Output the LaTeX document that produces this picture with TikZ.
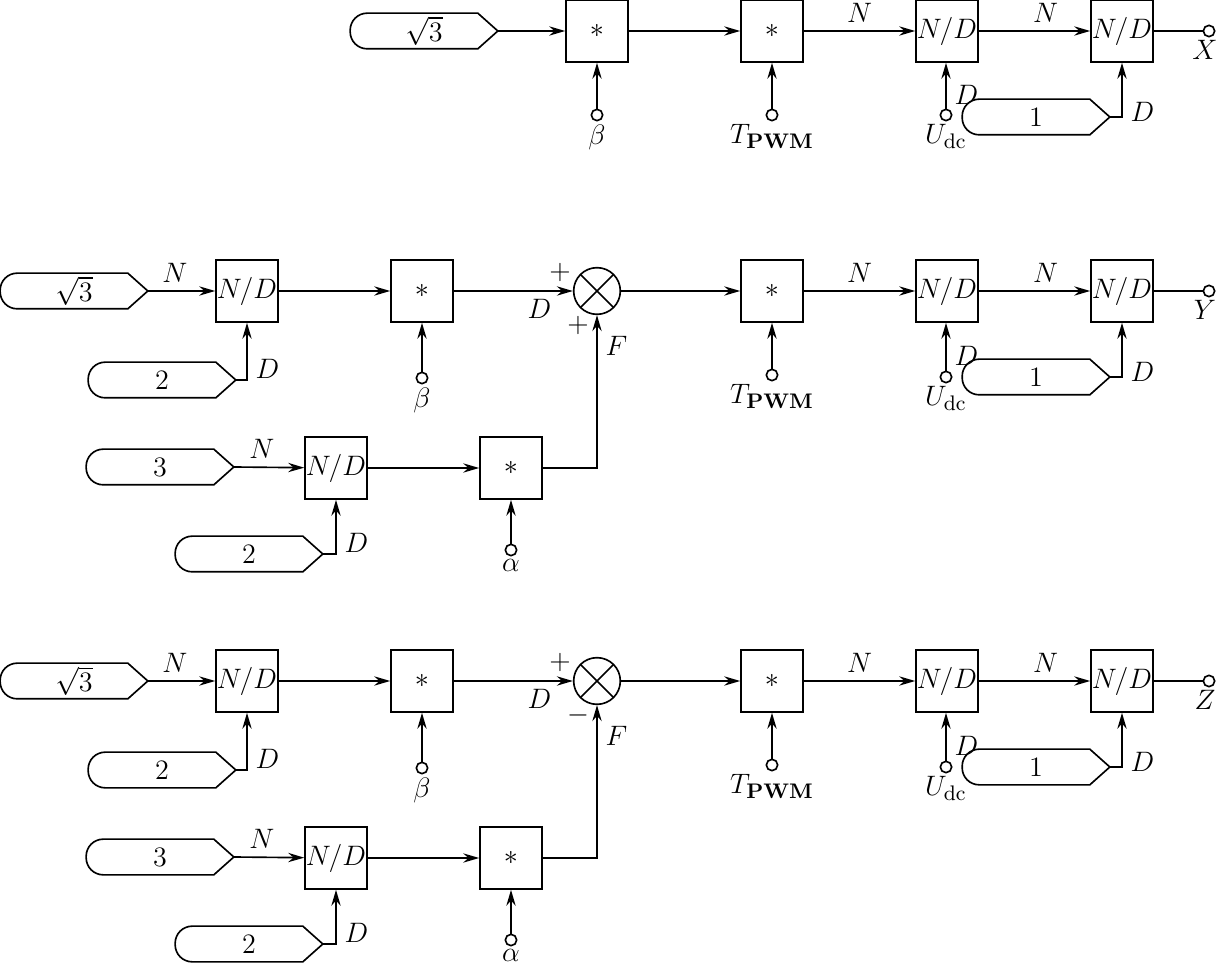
\documentclass[tikz,border=0pt]{standalone}
\usetikzlibrary{arrows.meta}

\tikzset{
  blk/.style={draw, minimum size=9.3mm, inner sep=0pt},
  sum/.style={draw, circle, minimum size=7mm, inner sep=0pt,
    path picture={\draw (path picture bounding box.north west) -- (path picture bounding box.south east)
      (path picture bounding box.south west) -- (path picture bounding box.north east);}},
  term/.style={draw, circle, minimum size=1.7mm, inner sep=0pt},
  cst/.style={minimum width=21.9mm, minimum height=5.1mm, inner sep=0pt},
  sig/.style={-{Stealth[length=2.4mm, width=1.4mm, inset=0.8mm]}},
}
% constant block: name, position, value
\newcommand\cstnode[3]{%
  \node[cst] (#1) at (#2) {#3};
  \draw (#1.north) -- ([xshift=-3mm]#1.north east) -- (#1.east) -- ([xshift=-3mm]#1.south east)
    -- (#1.south) [rounded corners=2.55mm] -- (#1.south west) -- (#1.north west) -- (#1.north);
}
\newcommand\tpwm{$T_{\mbox{\small\bfseries PWM}}$}
\newcommand\udc{$U_{\mbox{\small dc}}$}

\begin{document}
\begin{tikzpicture}[x=0.15mm, y=-0.15mm, line width=0.7pt, font=\fontsize{12}{14}\selectfont]
  \useasboundingbox (0,0) rectangle (1218,968);

  % X
  \cstnode{k1}{424,31}{$\sqrt{3}$\hspace{4mm}}
  \cstnode{one1}{1036,117}{1}
  \node[blk] (ma1) at (597,31) {$*$};
  \node[blk] (mb1) at (772,31) {$*$};
  \node[blk] (ndb1) at (947,31) {$N/D$};
  \node[blk] (ndc1) at (1122,31) {$N/D$};
  \node[term, label={[inner sep=1pt]below:$\beta$}] (beta1) at (597,115) {};
  \node[term, label={[inner sep=1pt]below:\tpwm}] (tp1) at (772,115) {};
  \node[term, label={[inner sep=1pt]below:\udc}] (ud1) at (946,115) {};
  \node[term, label={[xshift=-0.6mm, inner sep=1pt]below:$X$}] (out1) at (1209,31) {};
  \draw[sig] (k1.east) -- (ma1);
  \draw[sig] (beta1) -- (ma1);
  \draw[sig] (ma1) -- (mb1);
  \draw[sig] (tp1) -- (mb1);
  \draw[sig] (mb1) -- node[above]{$N$} (ndb1);
  \draw[sig] (ud1) -- node[pos=0.3, right]{$D$} (ud1 |- ndb1.south);
  \draw[sig] (ndb1) -- node[pos=0.6, above]{$N$} (ndc1);
  \draw[sig] (one1.east) -| node[pos=0.55, right]{$D$} (ndc1.south);
  \draw (ndc1) -- (out1);

  % Y and Z
  \foreach \r/\dy/\outlab/\sgn in {2/0/Y/+, 3/390/Z/-}{
  \begin{scope}[shift={(0,\dy)}]
    \cstnode{k\r}{74,291}{$\sqrt{3}$\hspace{4mm}}
    \cstnode{two\r}{162,380}{2}
    \cstnode{three\r}{160,467}{3}
    \cstnode{twob\r}{249,554}{2}
    \cstnode{one\r}{1036,377}{1}
    \node[blk] (nda\r) at (247,291) {$N/D$};
    \node[blk] (ma\r) at (422,291) {$*$};
    \node[sum] (s\r) at (597,291) {};
    \node[blk] (mb\r) at (772,291) {$*$};
    \node[blk] (ndb\r) at (947,291) {$N/D$};
    \node[blk] (ndc\r) at (1122,291) {$N/D$};
    \node[blk] (ndd\r) at (336,468) {$N/D$};
    \node[blk] (mc\r) at (511,468) {$*$};
    \node[term, label={[inner sep=1pt]below:$\beta$}] (beta\r) at (422,378) {};
    \node[term, label={[inner sep=1pt]below:\tpwm}] (tp\r) at (772,375) {};
    \node[term, label={[inner sep=1pt]below:\udc}] (ud\r) at (946,377) {};
    \node[term, label={[inner sep=1pt]below:$\alpha$}] (al\r) at (511,550) {};
    \node[term, label={[xshift=-0.6mm, inner sep=1pt]below:$\outlab$}] (out\r) at (1209,291) {};
    \node at ([shift={(-37,-19)}]s\r) {$+$};
    \node at ([shift={(-19,34)}]s\r) {$\sgn$};

    \draw[sig] (k\r.east) -- node[pos=0.4, above]{$N$} (nda\r);
    \draw[sig] (two\r.east) -| node[pos=0.6, right]{$D$} (nda\r.south);
    \draw[sig] (nda\r) -- (ma\r);
    \draw[sig] (beta\r) -- (ma\r);
    \draw[sig] (ma\r) -- node[pos=0.72, below]{$D$} (s\r);
    \draw[sig] (s\r) -- (mb\r);
    \draw[sig] (tp\r) -- (mb\r);
    \draw[sig] (mb\r) -- node[above]{$N$} (ndb\r);
    \draw[sig] (ud\r) -- node[pos=0.3, right]{$D$} (ud\r |- ndb\r.south);
    \draw[sig] (ndb\r) -- node[pos=0.6, above]{$N$} (ndc\r);
    \draw[sig] (one\r.east) -| node[pos=0.55, right]{$D$} (ndc\r.south);
    \draw (ndc\r) -- (out\r);
    \draw[sig] (three\r.east) -- node[pos=0.4, above]{$N$} (ndd\r);
    \draw[sig] (twob\r.east) -| node[pos=0.6, right]{$D$} (ndd\r.south);
    \draw[sig] (ndd\r) -- (mc\r);
    \draw[sig] (al\r) -- (mc\r);
    \draw[sig] (mc\r) -| node[pos=0.9, right]{$F$} (s\r.south);
  \end{scope}
  }
\end{tikzpicture}
\end{document}
